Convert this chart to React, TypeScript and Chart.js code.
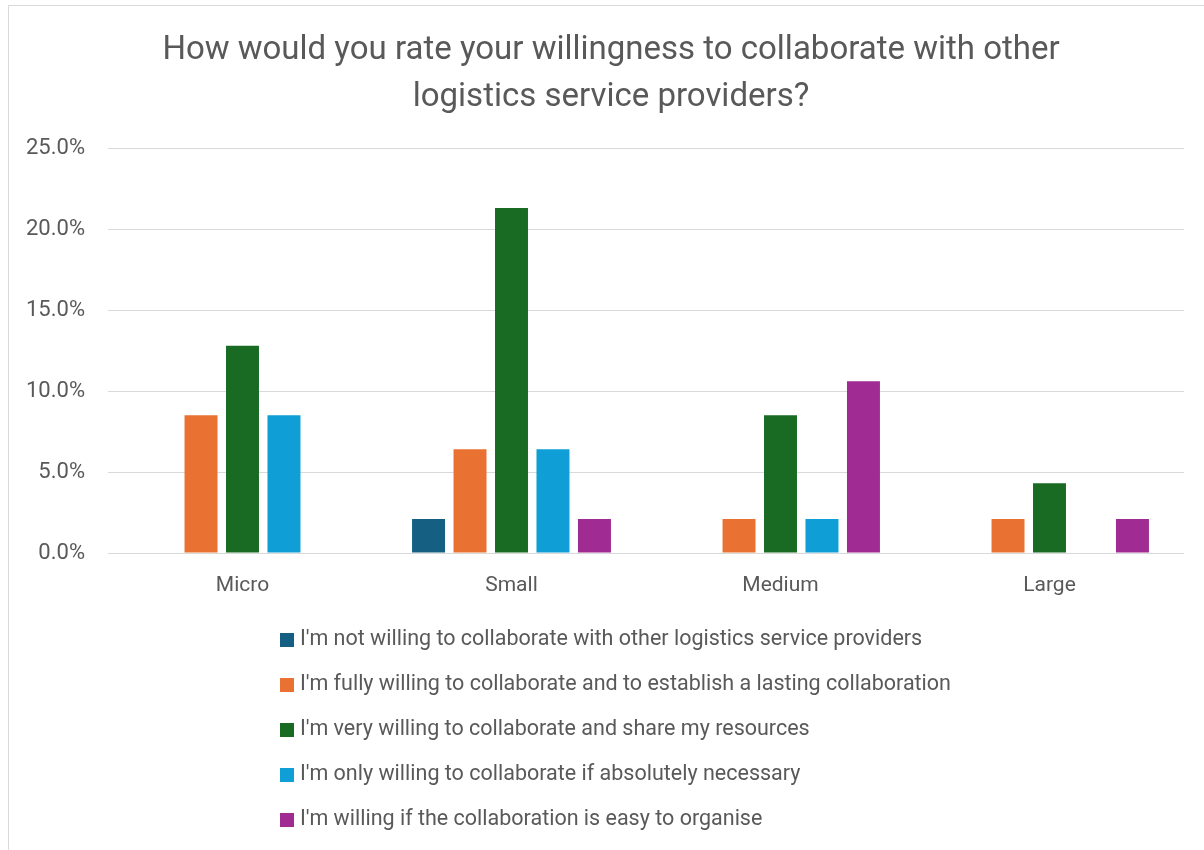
import { useEffect, useRef } from "react";
import { Chart, registerables } from "chart.js";

Chart.register(...registerables);

// Company size groups on the x axis
const categories = ["Micro", "Small", "Medium", "Large"];

// Share of respondents (%) per answer, one value per company size
const notWilling = [0, 2.1, 0, 0];
const fullyWilling = [8.5, 6.4, 2.1, 2.1];
const veryWilling = [12.8, 21.3, 8.5, 4.3];
const onlyIfNecessary = [8.5, 6.4, 2.1, 0];
const ifEasyToOrganise = [0, 2.1, 10.6, 2.1];

const seriesLabels = [
  "I'm not willing to collaborate with other logistics service providers",
  "I'm fully willing to collaborate and to establish a lasting collaboration",
  "I'm very willing to collaborate and share my resources",
  "I'm only willing to collaborate if absolutely necessary",
  "I'm willing if the collaboration is easy to organise",
];
const seriesValues = [notWilling, fullyWilling, veryWilling, onlyIfNecessary, ifEasyToOrganise];
const seriesColors = ["#156082", "#E97132", "#196B24", "#0F9ED5", "#A02B93"];

const titleLines = [
  "How would you rate your willingness to collaborate with other",
  "logistics service providers?",
];

const yMin = 0;
const yMax = 25;
const yStep = 5;

const FONT = "Roboto, 'Open Sans', 'DejaVu Sans', sans-serif";
const TEXT = "#595959";
const GRID = "#d9d9d9";

// Two-line title centred on the whole canvas (not on the plot area)
const centeredTitle = {
  id: "centeredTitle",
  afterDraw(chart: any, _args: any, opts: any) {
    const { ctx } = chart;
    ctx.save();
    ctx.font = `${opts.fontSize}px ${FONT}`;
    ctx.fillStyle = TEXT;
    ctx.textAlign = "center";
    ctx.textBaseline = "middle";
    titleLines.forEach((line, i) => {
      ctx.fillText(line, chart.width / 2, opts.firstLineY + i * opts.lineHeight);
    });
    ctx.restore();
  },
};

// Legend drawn as a single left-aligned column under the plot
const columnLegend = {
  id: "columnLegend",
  afterDraw(chart: any, _args: any, opts: any) {
    const { ctx, chartArea } = chart;
    const items = chart.data.datasets.map((ds: any) => ({
      text: ds.label as string,
      color: ds.backgroundColor as string,
    }));
    ctx.save();
    ctx.font = `${opts.fontSize}px ${FONT}`;
    const widest = Math.max(...items.map((i: any) => ctx.measureText(i.text).width));
    const blockWidth = opts.boxSize + opts.gap + widest;
    const left = Math.round((chart.width - blockWidth) / 2 + opts.offsetX);
    items.forEach((item: any, i: number) => {
      const cy = chartArea.bottom + opts.firstOffset + i * opts.rowHeight;
      ctx.fillStyle = item.color;
      ctx.fillRect(left, Math.round(cy - opts.boxSize / 2), opts.boxSize, opts.boxSize);
      ctx.fillStyle = TEXT;
      ctx.textBaseline = "middle";
      ctx.textAlign = "left";
      ctx.fillText(item.text, left + opts.boxSize + opts.gap, cy);
    });
    ctx.restore();
  },
};

export default function App() {
  const canvasRef = useRef<HTMLCanvasElement | null>(null);

  useEffect(() => {
    if (!canvasRef.current) return;
    const chart = new Chart(canvasRef.current, {
      type: "bar",
      data: {
        labels: categories,
        datasets: seriesLabels.map((label, i) => ({
          label,
          data: seriesValues[i],
          backgroundColor: seriesColors[i],
          borderWidth: 0,
          barPercentage: 0.795,
          categoryPercentage: 0.771,
        })),
      },
      options: {
        responsive: false,
        animation: false,
        devicePixelRatio: 1,
        layout: { padding: { left: 0, right: 29, top: 142, bottom: 237 } },
        plugins: {
          legend: { display: false },
          tooltip: { enabled: false },
          title: { display: false },
          centeredTitle: {
            fontSize: 33,
            firstLineY: 44.5,
            lineHeight: 47,
          },
          columnLegend: {
            fontSize: 21.5,
            boxSize: 14,
            gap: 6,
            rowHeight: 45,
            firstOffset: 87,
            offsetX: 4.5,
          },
        } as any,
        scales: {
          x: {
            grid: { display: false },
            border: { display: false },
            ticks: { color: TEXT, font: { family: FONT, size: 21 }, padding: 12 },
            afterFit: (scale: any) => {
              scale.height = 60;
            },
          },
          y: {
            min: yMin,
            max: yMax,
            grid: { color: GRID, lineWidth: 1, drawTicks: false },
            border: { display: false },
            ticks: {
              stepSize: yStep,
              color: TEXT,
              font: { family: FONT, size: 22 },
              padding: 23,
              callback: (v: any) => Number(v).toFixed(1) + "%",
            },
            afterFit: (scale: any) => {
              scale.width = 99;
            },
          },
        },
      },
      plugins: [centeredTitle, columnLegend],
    });
    return () => chart.destroy();
  }, []);

  return (
    <div
      style={{
        position: "absolute",
        left: 8,
        top: 5,
        width: 1196,
        height: 845,
        overflow: "hidden",
        borderTop: `1px solid ${GRID}`,
        borderLeft: `1px solid ${GRID}`,
        boxSizing: "border-box",
        background: "#fff",
      }}
    >
      <canvas ref={canvasRef} width={1204} height={844} style={{ display: "block" }} />
    </div>
  );
}
